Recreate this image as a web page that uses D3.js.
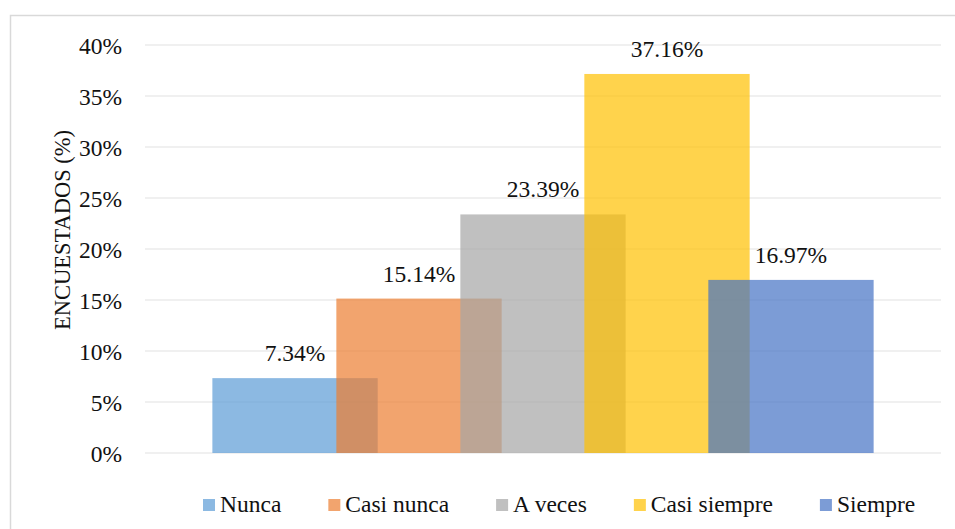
<!DOCTYPE html>
<html>
<head>
<meta charset="utf-8">
<script src="https://cdn.jsdelivr.net/npm/d3@7"></script>
<style>
  html, body { margin: 0; padding: 0; background: #fff; }
  svg { display: block; }
  svg text { font-family: "Times New Roman", Times, "Liberation Serif", "DejaVu Serif", serif; }
</style>
</head>
<body>
<svg id="chart" width="955" height="529"></svg>
<script>
// Response categories and share of respondents (fractions)
const categories = ["Nunca", "Casi nunca", "A veces", "Casi siempre", "Siempre"];
const values = [0.0734, 0.1514, 0.2339, 0.3716, 0.1697];
const colors = ["#5B9BD5", "#ED7D31", "#A5A5A5", "#FFC000", "#4472C4"];
const yTicks = [0, 0.05, 0.10, 0.15, 0.20, 0.25, 0.30, 0.35, 0.40];
const yTitle = "ENCUESTADOS (%)";

const fontSize = 23.5;

const svg = d3.select("#chart");
const plot = { left: 145, right: 941, top: 45, bottom: 453 };

function styleText(sel, size) {
  return sel.attr("font-family", null).style("font-size", size + "px").style("fill", "#111");
}

// Outer chart frame (continues beyond the visible window)
svg.append("rect")
  .attr("x", 10.5).attr("y", 15.5)
  .attr("width", 1200).attr("height", 800)
  .attr("fill", "#fff")
  .attr("stroke", "#D9D9D9").attr("stroke-width", 1.5);

const y = d3.scaleLinear().domain([0, 0.4]).range([plot.bottom, plot.top]);

// Series share a single cluster; bars overlap by a quarter of their width
const x = d3.scalePoint().domain(categories)
  .range([plot.left, plot.right]).padding(1.21);
const barW = x.step() / 0.75;

// Horizontal gridlines
svg.append("g").selectAll("line").data(yTicks).join("line")
  .attr("x1", plot.left).attr("x2", plot.right)
  .attr("y1", d => y(d)).attr("y2", d => y(d))
  .attr("stroke", "#EBEBEB").attr("stroke-width", 1.5);

// Y axis tick labels
const yAxis = d3.axisLeft(y).tickValues(yTicks)
  .tickFormat(d3.format(".0%")).tickSize(0).tickPadding(0);
const gy = svg.append("g").attr("transform", "translate(122,0)").call(yAxis);
gy.attr("font-family", null).attr("font-size", null);
gy.select(".domain").remove();
styleText(gy.selectAll("text"), fontSize).attr("dy", "0.34em");

// Axis title
styleText(svg.append("text"), fontSize - 1)
  .attr("transform", "translate(70,230) rotate(-90)")
  .attr("text-anchor", "middle")
  .text(yTitle);

// Bars, semi-transparent so overlaps show through
svg.append("g").selectAll("rect").data(categories).join("rect")
  .attr("x", d => x(d) - barW / 2)
  .attr("width", barW)
  .attr("y", (d, i) => y(values[i]))
  .attr("height", (d, i) => y(0) - y(values[i]))
  .attr("fill", (d, i) => colors[i])
  .attr("fill-opacity", 0.7);

// Value labels
styleText(svg.append("g").selectAll("text").data(categories).join("text"), fontSize)
  .attr("x", d => x(d))
  .attr("y", (d, i) => y(values[i]) - 17)
  .attr("text-anchor", "middle")
  .text((d, i) => d3.format(".2%")(values[i]));

// Legend
const legend = svg.append("g");
let lx = 203;
categories.forEach((c, i) => {
  legend.append("rect")
    .attr("x", lx).attr("y", 499).attr("width", 12).attr("height", 12)
    .attr("fill", colors[i]).attr("fill-opacity", 0.7);
  const t = styleText(legend.append("text"), fontSize)
    .attr("x", lx + 17).attr("y", 512)
    .text(c);
  lx += 17 + t.node().getComputedTextLength() + 47;
});
</script>
</body>
</html>
